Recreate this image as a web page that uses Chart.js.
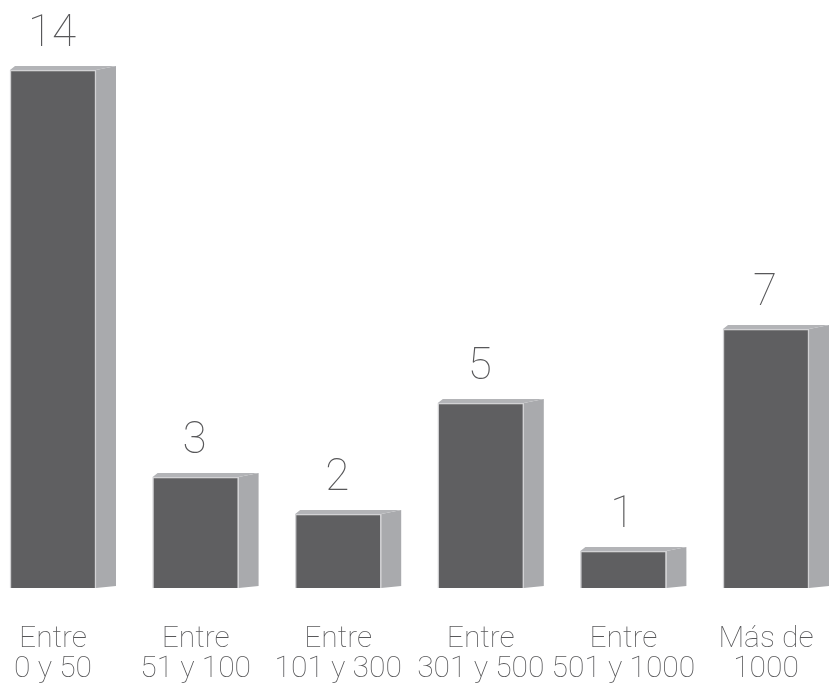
<!DOCTYPE html>
<html>
<head>
<meta charset="utf-8">
<script src="https://cdn.jsdelivr.net/npm/chart.js@4"></script>
<style>
  html, body { margin: 0; padding: 0; background: #ffffff; }
  #wrap { width: 832px; height: 686px; }
</style>
</head>
<body>
<div id="wrap"><canvas id="chart" width="832" height="686"></canvas></div>
<script>
const categories = [
    ["Entre", "0 y 50"],
    ["Entre", "51 y 100"],
    ["Entre", "101 y 300"],
    ["Entre", "301 y 500"],
    ["Entre", "501 y 1000"],
    ["Más de", "1000"]
]
const values = [14, 3, 2, 5, 1, 7]

const fontName = "Roboto"
const textColor = "#58585a"

// side + top faces of each block, and the number above it
const blockPlugin = {
    id: "blocks",
    beforeDatasetsDraw(chart) {
        const ctx = chart.ctx
        const meta = chart.getDatasetMeta(0)
        ctx.save()
        meta.data.forEach(bar => {
            const left = bar.x - bar.width / 2
            const right = bar.x + bar.width / 2
            const top = bar.y
            const base = bar.base
            const dx = 20, dy = 4
            // side
            ctx.fillStyle = "#a9aaad"
            ctx.beginPath()
            ctx.moveTo(right, top)
            ctx.lineTo(right + dx, top - dy)
            ctx.lineTo(right + dx, base - 2)
            ctx.lineTo(right, base)
            ctx.closePath()
            ctx.fill()
            // top
            ctx.fillStyle = "#b3b4b7"
            ctx.beginPath()
            ctx.moveTo(left, top)
            ctx.lineTo(left + 5, top - dy)
            ctx.lineTo(right + dx, top - dy)
            ctx.lineTo(right, top)
            ctx.closePath()
            ctx.fill()
        })
        ctx.restore()
    },
    afterDatasetsDraw(chart) {
        const ctx = chart.ctx
        const meta = chart.getDatasetMeta(0)
        ctx.save()
        ctx.fillStyle = textColor
        ctx.font = "100 44px " + fontName
        ctx.textAlign = "center"
        ctx.textBaseline = "alphabetic"
        meta.data.forEach((bar, i) => {
            ctx.fillText(String(values[i]), bar.x - 1, bar.y - 24)
        })
        ctx.restore()
    }
}

new Chart("chart", {
    type: "bar",
    data: {
        labels: categories,
        datasets: [{
            data: values,
            backgroundColor: "#5f5f61",
            borderColor: "#d2d2d4",
            borderWidth: 1.5,
            barThickness: 86,
            clip: false
        }]
    },
    plugins: [blockPlugin],
    options: {
        responsive: false,
        animation: false,
        layout: { padding: { top: 70, left: 53, right: 66, bottom: 2 } },
        plugins: {
            legend: { display: false },
            tooltip: { enabled: false }
        },
        scales: {
            x: {
                offset: false,
                grid: { display: false },
                border: { display: false },
                ticks: {
                    color: textColor,
                    font: { family: fontName, size: 30, weight: 100, lineHeight: 1.0 },
                    padding: 28,
                    maxRotation: 0,
                    autoSkip: false
                },
                afterFit(scale) {
                    scale.paddingLeft = 0
                    scale.paddingRight = 0
                    scale.height = 96
                }
            },
            y: {
                display: false,
                min: 0,
                max: 14
            }
        }
    }
});
</script>
</body>
</html>
